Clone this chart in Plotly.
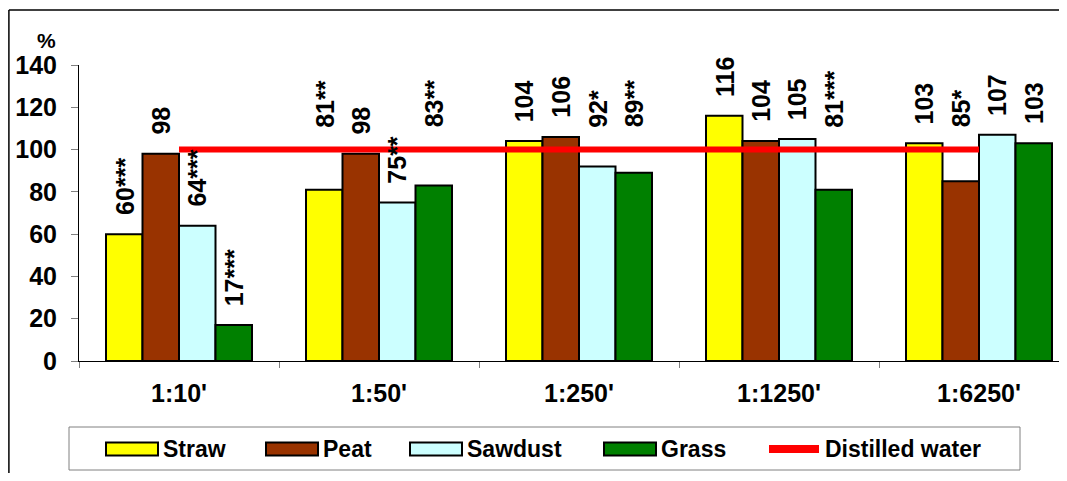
import plotly.graph_objects as go

categories = ["1:10'", "1:50'", "1:250'", "1:1250'", "1:6250'"]
straw = [60, 81, 104, 116, 103]
peat = [98, 98, 106, 104, 85]
sawdust = [64, 75, 92, 105, 107]
grass = [17, 83, 89, 81, 103]
straw_sig = ["***", "**", "", "", ""]
peat_sig = ["", "", "", "", "*"]
sawdust_sig = ["***", "**", "*", "", ""]
grass_sig = ["***", "**", "**", "***", ""]
distilled_water = [100, 100, 100, 100, 100]
y_ticks = [0, 20, 40, 60, 80, 100, 120, 140]

series = [
    ("Straw", straw, straw_sig, "#FFFF00"),
    ("Peat", peat, peat_sig, "#993300"),
    ("Sawdust", sawdust, sawdust_sig, "#CCFFFF"),
    ("Grass", grass, grass_sig, "#008000"),
]
line_name = "Distilled water"
line_color = "#FF0000"

# labels that the original chart moved up above the reference line
raised = {("Straw", 1), ("Grass", 1), ("Sawdust", 2), ("Grass", 2),
          ("Grass", 3), ("Peat", 4)}

FONT = "Liberation Sans, Arial, sans-serif"

OFF = 8  # page body margin
W, H = 1067 - 2 * OFF, 481 - 2 * OFF
L = 79 - OFF
T = 65 - OFF
B = H - (361 - OFF)
pw = W - L
ph = H - T - B
cat_px = 200.0
BARGAP = 0.27
YMAX = 140
bw = cat_px * (1 - BARGAP) / len(series)

fig = go.Figure()
annotations = []
for i, (name, vals, sig, color) in enumerate(series):
    fig.add_trace(go.Bar(
        name=name, x=categories, y=vals,
        marker=dict(color=color, line=dict(color="black", width=2)),
        showlegend=False,
    ))
    for j, (c, v, s) in enumerate(zip(categories, vals, sig)):
        if (name, j) in raised:
            y, ysh = distilled_water[j], 20
        else:
            y, ysh = v, 17
        annotations.append(dict(
            x=c, xref="x", y=y, yref="y", text=f"<b>{v}{s}</b>",
            textangle=-90, showarrow=False, xanchor="center", yanchor="bottom",
            xshift=(i - (len(series) - 1) / 2) * bw, yshift=ysh,
            font=dict(family=FONT, size=25, color="black"),
        ))

fig.add_trace(go.Scatter(
    name=line_name, x=categories, y=distilled_water,
    mode="lines", line=dict(color=line_color, width=6), showlegend=False,
))


def px_x(x):  # x in page pixels
    return (x - OFF - L) / pw


def px_y(y):  # y in page pixels
    return (H - B - (y - OFF)) / ph


# outer chart frame (left and top edges visible; the rest is cropped)
shapes = [
    dict(type="line", xref="paper", yref="paper",
         x0=px_x(8.9), x1=px_x(8.9), y0=px_y(500), y1=px_y(10),
         line=dict(color="black", width=1.5), layer="below"),
    dict(type="line", xref="paper", yref="paper",
         x0=px_x(8.9), x1=px_x(1100), y0=px_y(10), y1=px_y(10),
         line=dict(color="black", width=1.5), layer="below"),
]
# legend box
shapes.append(dict(
    type="rect", xref="paper", yref="paper",
    x0=px_x(69), x1=px_x(1020), y0=px_y(470), y1=px_y(427),
    line=dict(color="#808080", width=1), fillcolor="white", layer="above",
))
legend_x = [106, 266, 410, 604, 766]
sw_w = 52
leg_cy = 449
for k, (name, vals, sig, color) in enumerate(series):
    x0 = legend_x[k]
    shapes.append(dict(
        type="rect", xref="paper", yref="paper",
        x0=px_x(x0), x1=px_x(x0 + sw_w), y0=px_y(leg_cy + 6.5), y1=px_y(leg_cy - 6.5),
        line=dict(color="black", width=2), fillcolor=color, layer="above",
    ))
    annotations.append(dict(
        x=px_x(x0 + sw_w + 3), y=px_y(leg_cy), xref="paper", yref="paper",
        xanchor="left", yanchor="middle", showarrow=False, text=f"<b>{name}</b>",
        font=dict(family=FONT, size=23, color="black"),
    ))
x0 = legend_x[-1]
shapes.append(dict(
    type="line", xref="paper", yref="paper",
    x0=px_x(x0 + 3), x1=px_x(x0 + 53), y0=px_y(leg_cy), y1=px_y(leg_cy),
    line=dict(color=line_color, width=8), layer="above",
))
annotations.append(dict(
    x=px_x(x0 + 57), y=px_y(leg_cy), xref="paper", yref="paper",
    xanchor="left", yanchor="middle", showarrow=False, text=f"<b>{line_name}</b>",
    font=dict(family=FONT, size=23, color="black"),
))
annotations.append(dict(
    text="<b>%</b>", xref="paper", yref="paper",
    x=px_x(35), y=px_y(27), showarrow=False,
    font=dict(family=FONT, size=21, color="black"),
))

fig.update_layout(
    width=W, height=H,
    margin=dict(l=L, r=0, t=T, b=B, pad=0, autoexpand=False),
    plot_bgcolor="white", paper_bgcolor="white",
    barmode="group", bargap=BARGAP, bargroupgap=0,
    font=dict(family=FONT, color="black"),
    showlegend=False,
    xaxis=dict(
        range=[-0.5, -0.5 + pw / cat_px], showline=True, linecolor="black", linewidth=1,
        ticks="outside", tickson="boundaries", ticklen=6, tickcolor="#808080",
        tickfont=dict(family=FONT, size=25, color="black", weight="bold"),
        ticklabelstandoff=10,
        showgrid=False, zeroline=False, fixedrange=True, automargin=False,
    ),
    yaxis=dict(
        range=[0, YMAX], tickvals=y_ticks, showline=True, linecolor="black", linewidth=1,
        ticks="outside", ticklen=7, tickcolor="#808080",
        tickfont=dict(family=FONT, size=25, color="black", weight="bold"),
        ticklabelstandoff=9,
        showgrid=False, zeroline=False, automargin=False,
    ),
    shapes=shapes,
    annotations=annotations,
)

fig.write_html("out.html")
